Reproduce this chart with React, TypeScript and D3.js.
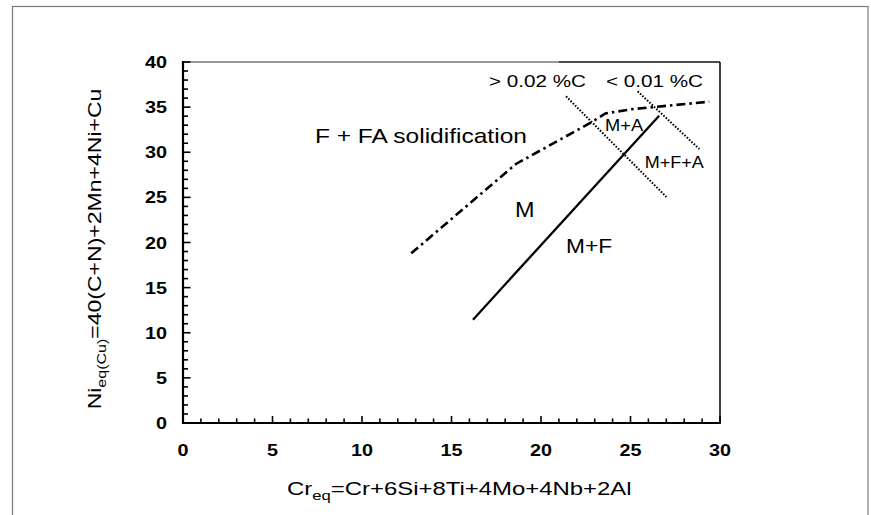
import React from "react";
import * as d3 from "d3";

// ---------- data ----------
const xTickValues = [0, 5, 10, 15, 20, 25, 30];
const yTickValues = [0, 5, 10, 15, 20, 25, 30, 35, 40];

// solid boundary M / M+F
const solidLine: [number, number][] = [
  [16.2, 11.45],
  [26.6, 34.05],
];
// dash-dot boundary (F + FA solidification)
const dashDotLine: [number, number][] = [
  [12.75, 18.8],
  [18.6, 28.7],
  [22.8, 33.3],
  [23.6, 34.3],
  [25.0, 34.75],
  [26.5, 35.05],
  [29.4, 35.6],
];
// dotted carbon lines
const dottedHighC: [number, number][] = [
  [21.4, 36.2],
  [27.0, 25.05],
];
const dottedLowC: [number, number][] = [
  [25.4, 36.75],
  [28.85, 30.35],
];

const annotationTexts = [
  "> 0.02 %C",
  "< 0.01 %C",
  "F + FA solidification",
  "M+A",
  "M+F+A",
  "M",
  "M+F",
];
// anchor (data coords, left/baseline)
const annotationX = [17.09, 23.63, 7.37, 23.58, 25.8, 18.55, 21.4];
const annotationY = [37.23, 37.23, 30.97, 32.35, 28.25, 22.88, 18.84];

// ---------- layout ----------
const W = 871;
const H = 515;
const PL = 183;
const PR = 720;
const PT = 62;
const PB = 423;

const FONT = "'Liberation Sans', Arial, Helvetica, sans-serif";

const annSize = [17, 17, 21, 16, 16, 22, 21];
const annLen = [97, 97, 212, 38, 59, 19.5, 46];

export default function App() {
  const x = d3.scaleLinear().domain([0, 30]).range([PL, PR]);
  const y = d3.scaleLinear().domain([0, 40]).range([PB, PT]);
  const line = d3
    .line<[number, number]>()
    .x((d) => x(d[0]))
    .y((d) => y(d[1]));

  const xMinor = d3.range(0, 31, 1);
  const yMinor = d3.range(0, 41, 1);

  return (
    <svg
      width={W}
      height={H}
      style={{ position: "absolute", left: 0, top: 0, background: "#fff" }}
    >
      <rect x={0} y={0} width={W} height={H} fill="#fff" />
      {/* outer frame */}
      <rect
        x={12.5}
        y={6.5}
        width={855.5}
        height={540}
        fill="none"
        stroke="#7a7a7a"
        strokeWidth={1.2}
      />

      {/* plot frame */}
      <line x1={PL} y1={PT} x2={x(21)} y2={PT} stroke="#777" strokeWidth={1.5} />
      <line x1={x(21)} y1={PT} x2={PR} y2={PT} stroke="#111" strokeWidth={1.7} />
      <line x1={PR} y1={PT} x2={PR} y2={PB} stroke="#111" strokeWidth={1.6} />
      <line x1={PL} y1={PT - 1} x2={PL} y2={PB + 1} stroke="#000" strokeWidth={2.2} />
      <line x1={PL - 1} y1={PB} x2={PR + 0.8} y2={PB} stroke="#000" strokeWidth={2.2} />

      {/* ticks */}
      {xMinor.map((v) => (
        <line
          key={"xt" + v}
          x1={x(v)}
          x2={x(v)}
          y1={PB}
          y2={PB - (v % 5 === 0 ? 7 : 4.5)}
          stroke="#000"
          strokeWidth={1.6}
        />
      ))}
      {yMinor.map((v) => (
        <line
          key={"yt" + v}
          x1={PL}
          x2={PL + (v % 5 === 0 ? 7.5 : 5)}
          y1={y(v)}
          y2={y(v)}
          stroke="#000"
          strokeWidth={1.6}
        />
      ))}

      {/* tick labels */}
      {xTickValues.map((v) => (
        <g key={"xl" + v} transform={`translate(${x(v)},455.5) scale(1.2,1)`}>
          <text
            textAnchor="middle"
            fontFamily={FONT}
            fontWeight="bold"
            fontSize={16.5}
            fill="#000"
          >
            {v}
          </text>
        </g>
      ))}
      {yTickValues.map((v) => (
        <g key={"yl" + v} transform={`translate(167,${y(v) + 6}) scale(1.2,1)`}>
          <text
            textAnchor="end"
            fontFamily={FONT}
            fontWeight="bold"
            fontSize={16.5}
            fill="#000"
          >
            {v}
          </text>
        </g>
      ))}

      {/* lines */}
      <path
        d={line(solidLine) || ""}
        fill="none"
        stroke="#000"
        strokeWidth={2.3}
      />
      <path
        d={line(dashDotLine) || ""}
        fill="none"
        stroke="#000"
        strokeWidth={2.6}
        strokeDasharray="9,4,2.5,4"
      />
      <path
        d={line(dottedHighC) || ""}
        fill="none"
        stroke="#000"
        strokeWidth={2}
        strokeDasharray="1.6,1.6"
      />
      <path
        d={line(dottedLowC) || ""}
        fill="none"
        stroke="#000"
        strokeWidth={2}
        strokeDasharray="1.6,1.6"
      />

      {/* annotations */}
      {annotationTexts.map((t, i) => (
        <text
          key={"an" + i}
          x={x(annotationX[i])}
          y={y(annotationY[i])}
          fontFamily={FONT}
          fontSize={annSize[i]}
          textLength={annLen[i]}
          lengthAdjust="spacingAndGlyphs"
          fill="#000"
        >
          {t}
        </text>
      ))}

      {/* x axis title */}
      <g transform="translate(287,495) scale(1.33,1)">
        <text fontFamily={FONT} fontSize={18} fill="#000">
          Cr
          <tspan fontSize={12.5} dy={5}>
            eq
          </tspan>
          <tspan dy={-5}>=Cr+6Si+8Ti+4Mo+4Nb+2Al</tspan>
        </text>
      </g>

      {/* y axis title */}
      <g transform="translate(101,249) rotate(-90) scale(1.28,1)">
        <text textAnchor="middle" fontFamily={FONT} fontSize={18} fill="#000">
          Ni
          <tspan fontSize={12.5} dy={5}>
            eq(Cu)
          </tspan>
          <tspan dy={-5}>=40(C+N)+2Mn+4Ni+Cu</tspan>
        </text>
      </g>
    </svg>
  );
}
